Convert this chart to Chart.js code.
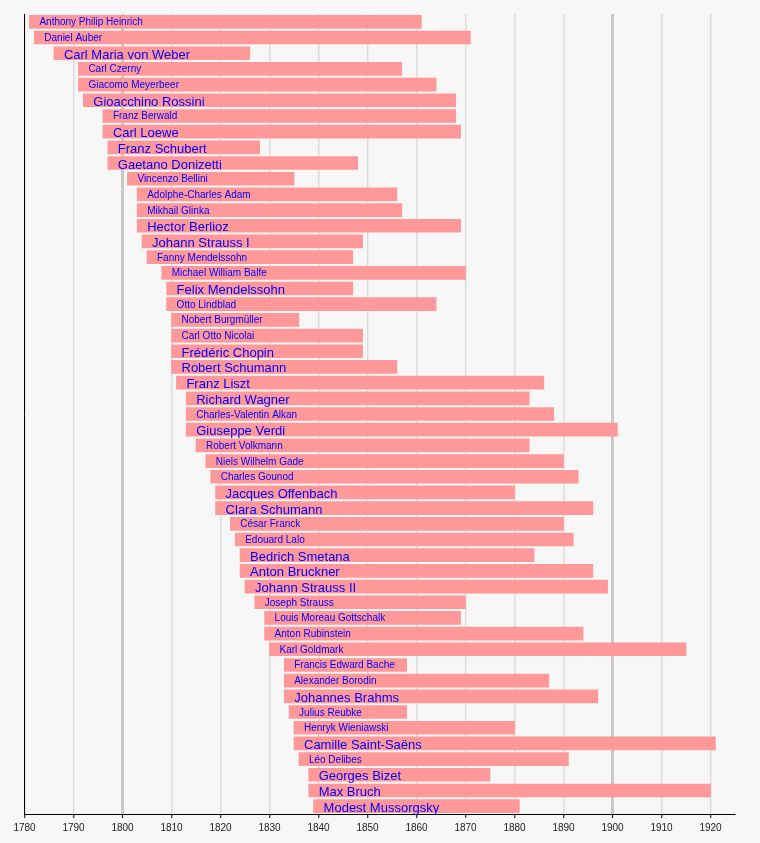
<!DOCTYPE html>
<html>
<head>
<meta charset="utf-8">
<script src="https://cdn.jsdelivr.net/npm/chart.js@4"></script>
<style>
  body { margin: 0; background: #f7f7f7; }
  #wrap { width: 760px; height: 843px; }
</style>
</head>
<body>
<div id="wrap"><canvas id="lifespans"></canvas></div>
<script>
const names = [
  'Anthony Philip Heinrich', 'Daniel Auber', 'Carl Maria von Weber', 'Carl Czerny', 'Giacomo Meyerbeer',
  'Gioacchino Rossini', 'Franz Berwald', 'Carl Loewe', 'Franz Schubert', 'Gaetano Donizetti',
  'Vincenzo Bellini', 'Adolphe-Charles Adam', 'Mikhail Glinka', 'Hector Berlioz', 'Johann Strauss I',
  'Fanny Mendelssohn', 'Michael William Balfe', 'Felix Mendelssohn', 'Otto Lindblad', 'Nobert Burgmüller',
  'Carl Otto Nicolai', 'Frédéric Chopin', 'Robert Schumann', 'Franz Liszt', 'Richard Wagner',
  'Charles-Valentin Alkan', 'Giuseppe Verdi', 'Robert Volkmann', 'Niels Wilhelm Gade', 'Charles Gounod',
  'Jacques Offenbach', 'Clara Schumann', 'César Franck', 'Edouard Lalo', 'Bedrich Smetana',
  'Anton Bruckner', 'Johann Strauss II', 'Joseph Strauss', 'Louis Moreau Gottschalk', 'Anton Rubinstein',
  'Karl Goldmark', 'Francis Edward Bache', 'Alexander Borodin', 'Johannes Brahms', 'Julius Reubke',
  'Henryk Wieniawski', 'Camille Saint-Saëns', 'Léo Delibes', 'Georges Bizet', 'Max Bruch',
  'Modest Mussorgsky'
];
const born = [
  1781, 1782, 1786, 1791, 1791, 1792, 1796, 1796, 1797, 1797,
  1801, 1803, 1803, 1803, 1804, 1805, 1808, 1809, 1809, 1810,
  1810, 1810, 1810, 1811, 1813, 1813, 1813, 1815, 1817, 1818,
  1819, 1819, 1822, 1823, 1824, 1824, 1825, 1827, 1829, 1829,
  1830, 1833, 1833, 1833, 1834, 1835, 1835, 1836, 1838, 1838,
  1839
];
const died = [
  1861, 1871, 1826, 1857, 1864, 1868, 1868, 1869, 1828, 1848,
  1835, 1856, 1857, 1869, 1849, 1847, 1870, 1847, 1864, 1836,
  1849, 1849, 1856, 1886, 1883, 1888, 1901, 1883, 1890, 1893,
  1880, 1896, 1890, 1892, 1884, 1896, 1899, 1870, 1869, 1894,
  1915, 1858, 1887, 1897, 1858, 1880, 1921, 1891, 1875, 1920,
  1881
];
// composers whose names are printed larger
const prominent = [
  'Carl Maria von Weber', 'Gioacchino Rossini', 'Carl Loewe', 'Franz Schubert', 'Gaetano Donizetti',
  'Hector Berlioz', 'Johann Strauss I', 'Felix Mendelssohn', 'Frédéric Chopin', 'Robert Schumann',
  'Franz Liszt', 'Richard Wagner', 'Giuseppe Verdi', 'Jacques Offenbach', 'Clara Schumann',
  'Bedrich Smetana', 'Anton Bruckner', 'Johann Strauss II', 'Johannes Brahms', 'Camille Saint-Saëns',
  'Georges Bizet', 'Max Bruch', 'Modest Mussorgsky'
];
const yearMin = 1780, yearMax = 1925, yearStep = 10;

Chart.defaults.font.family = '"Liberation Sans", Arial, sans-serif';

// names written inside each bar, starting just after the birth year
const nameLabels = {
  id: 'nameLabels',
  afterDatasetsDraw(chart) {
    const ctx = chart.ctx;
    const meta = chart.getDatasetMeta(0);
    ctx.save();
    ctx.fillStyle = '#0000ff';
    ctx.textAlign = 'left';
    ctx.textBaseline = 'alphabetic';
    meta.data.forEach((bar, i) => {
      const big = prominent.includes(names[i]);
      ctx.font = (big ? 13 : 10) + 'px "Liberation Sans", Arial, sans-serif';
      const left = Math.min(bar.x, bar.base);
      ctx.fillText(names[i], left + 10, bar.y + (big ? 5.5 : 3.5));
    });
    ctx.restore();
  }
};

const ctxLife = document.getElementById('lifespans').getContext('2d');
const lifeChart = new Chart(ctxLife, {
  type: 'bar',
  data: {
    labels: names,
    datasets: [{
      data: names.map((n, i) => [born[i], died[i]]),
      backgroundColor: '#ff9999',
      borderWidth: 0,
      barThickness: 13
    }]
  },
  options: {
    indexAxis: 'y',
    responsive: true,
    maintainAspectRatio: false,
    animation: false,
    layout: { padding: { top: 14, left: 24.5, right: 25, bottom: 0 } },
    plugins: { legend: { display: false }, tooltip: { enabled: false } },
    scales: {
      x: {
        type: 'linear',
        min: yearMin,
        max: yearMax,
        afterFit(scale) { scale.height = 29; },
        ticks: {
          stepSize: yearStep,
          includeBounds: false,
          padding: 4,
          color: '#222',
          font: { size: 10 },
          callback: v => String(v)
        },
        grid: {
          color: c => (c.tick && c.tick.value % 100 === 0) ? '#c8c8c8' : '#dcdcdc',
          lineWidth: c => (c.tick && c.tick.value % 100 === 0) ? 3 : 1.5,
          tickColor: '#000',
          tickWidth: 1,
          tickLength: 4
        },
        border: { display: true, color: '#000', width: 1 }
      },
      y: {
        afterFit(scale) { scale.width = 0; },
        ticks: { display: false },
        grid: { display: false },
        border: { display: true, color: '#000', width: 1 }
      }
    }
  },
  plugins: [nameLabels]
});
</script>
</body>
</html>
